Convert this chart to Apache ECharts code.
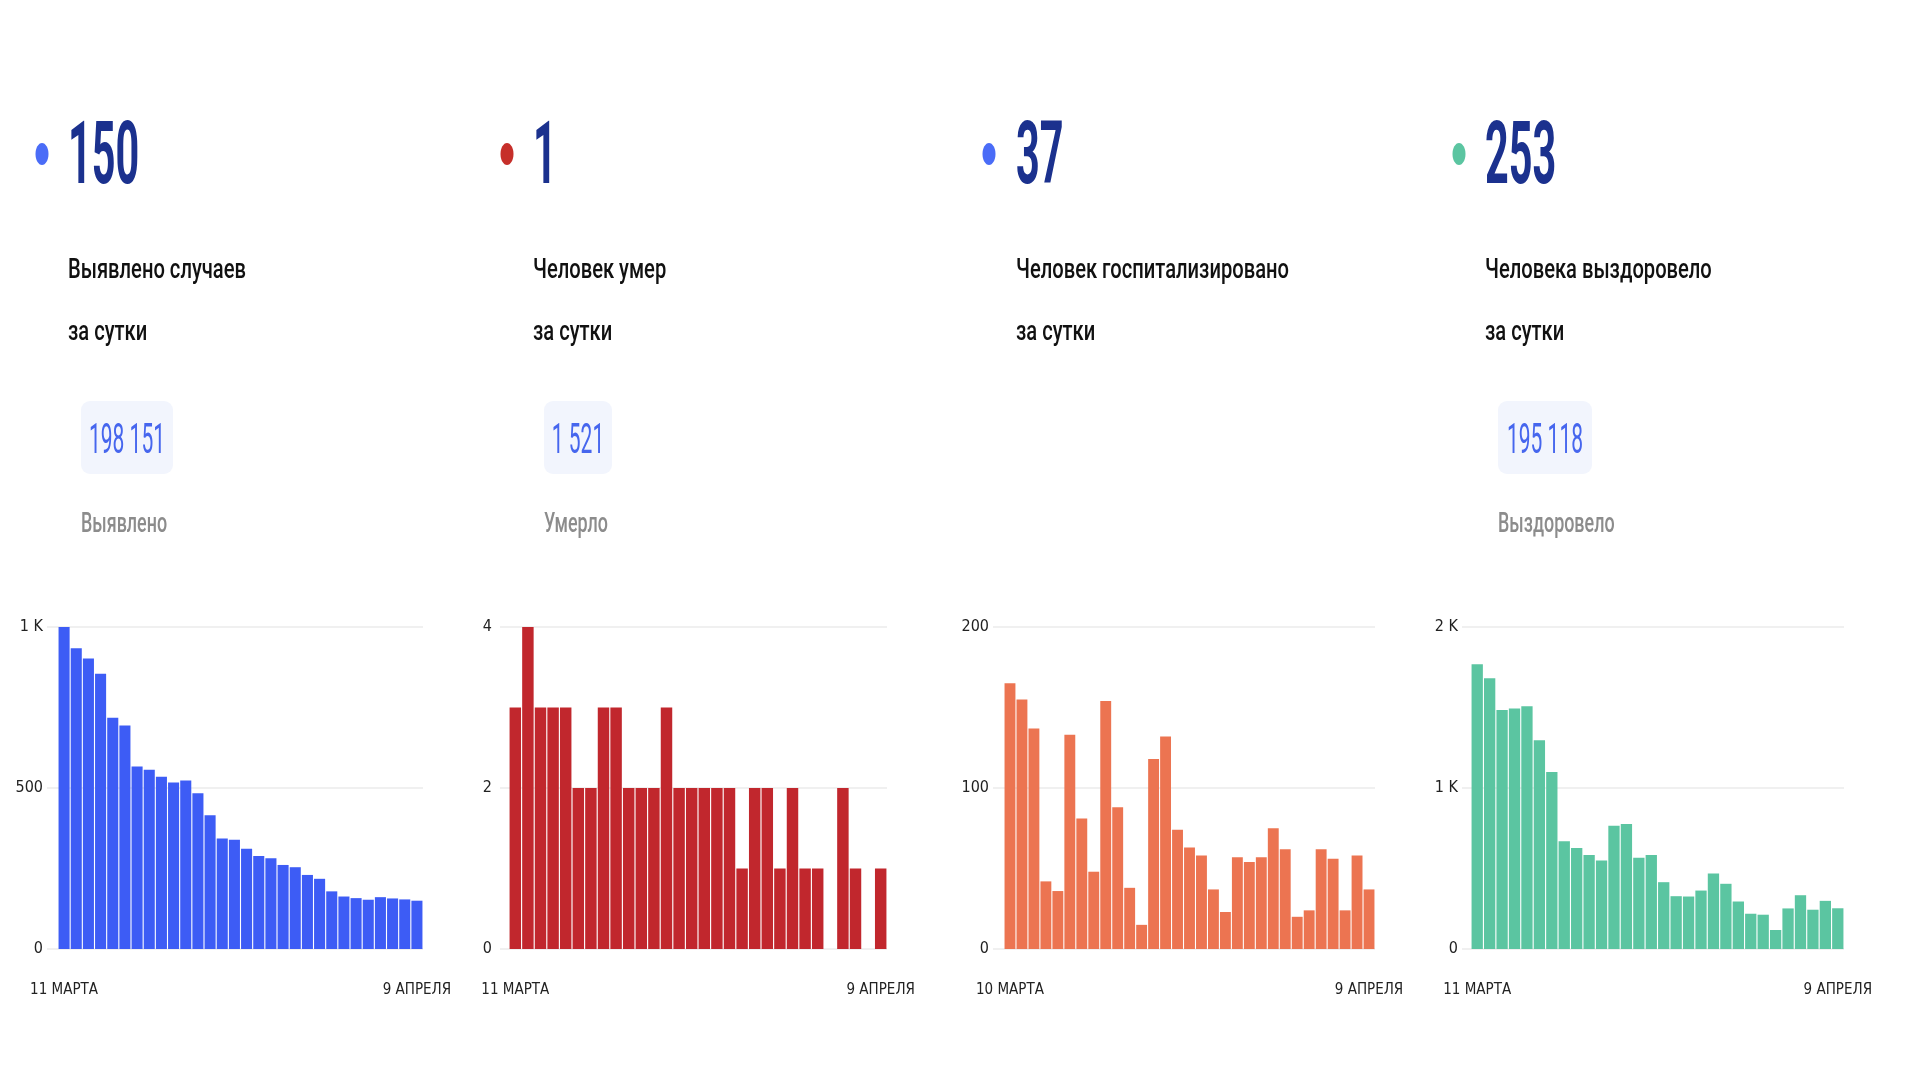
<!DOCTYPE html>
<html>
<head>
<meta charset="utf-8">
<title>COVID</title>
<script src="https://cdn.jsdelivr.net/npm/echarts@6/dist/echarts.min.js"></script>
<style>
    html, body { margin: 0; padding: 0; background: #fff; }
    #main { width: 1920px; height: 1080px; }
</style>
</head>
<body>
<div id="main"></div>
<script>
// даты по оси X (10 марта - 9 апреля)
var days = ['10 МАРТА', '11 МАРТА', '12 МАРТА', '13 МАРТА', '14 МАРТА', '15 МАРТА', '16 МАРТА',
    '17 МАРТА', '18 МАРТА', '19 МАРТА', '20 МАРТА', '21 МАРТА', '22 МАРТА', '23 МАРТА', '24 МАРТА',
    '25 МАРТА', '26 МАРТА', '27 МАРТА', '28 МАРТА', '29 МАРТА', '30 МАРТА', '31 МАРТА',
    '1 АПРЕЛЯ', '2 АПРЕЛЯ', '3 АПРЕЛЯ', '4 АПРЕЛЯ', '5 АПРЕЛЯ', '6 АПРЕЛЯ', '7 АПРЕЛЯ', '8 АПРЕЛЯ', '9 АПРЕЛЯ'];

var casesDaily = [1000, 934, 902, 855, 718, 694, 567, 557, 535, 517, 523, 484, 415, 343, 339,
    311, 289, 282, 261, 254, 230, 218, 179, 163, 158, 153, 161, 157, 154, 150];
var deathsDaily = [3, 4, 3, 3, 3, 2, 2, 3, 3, 2, 2, 2, 3, 2, 2, 2, 2, 2, 1, 2, 2, 1, 2, 1, 1, 0, 2, 1, 0, 1];
var hospDaily = [165, 155, 137, 42, 36, 133, 81, 48, 154, 88, 38, 15, 118, 132, 74, 63, 58, 37, 23,
    57, 54, 57, 75, 62, 20, 24, 62, 56, 24, 58, 37];
var recoveredDaily = [1769, 1682, 1484, 1494, 1507, 1296, 1100, 669, 627, 584, 549, 766, 776, 566, 584,
    415, 328, 326, 363, 469, 405, 295, 219, 213, 118, 252, 334, 244, 299, 253];

var todayValues = ['150', '1', '37', '253'];
var captions = [
    ['Выявлено случаев', 'за сутки'],
    ['Человек умер', 'за сутки'],
    ['Человек госпитализировано', 'за сутки'],
    ['Человека выздоровело', 'за сутки']
];
var totals = ['198 151', '1 521', null, '195 118'];
var totalLabels = ['Выявлено', 'Умерло', null, 'Выздоровело'];

var yMax = [1000, 4, 200, 2000];
var yStep = [500, 2, 100, 1000];

// оформление
var barColors = ['#3d5cf5', '#c1272d', '#ec7451', '#5bc5a1'];
var dotColors = ['#4a6cf7', '#c62f2a', '#4a6cf7', '#5bc5a1'];
var dotX = [42, 507, 989, 1459];
var textX = [68, 533, 1016, 1485];
var boxX = [81, 544, 0, 1498];
var boxW = [92, 68, 0, 94];
var frameLeft = [47, 500, 993, 1462];
var barLeft = [58, 509, 1004, 1471];
var gridRight = [423, 887, 1375, 1844];

var narrow = "'Liberation Sans Narrow', 'DejaVu Sans Condensed', sans-serif";

function kFormat(v) {
    if (v >= 1000) {
        return v / 1000 + ' K';
    }
    return v;
}

function buildHeader(i) {
    var items = [];
    items.push({
        type: 'ellipse',
        shape: { cx: dotX[i], cy: 154, rx: 6.5, ry: 11 },
        style: { fill: dotColors[i] }
    });
    items.push({
        type: 'text', x: textX[i], y: 161, scaleX: 0.47,
        style: {
            text: todayValues[i], fill: '#1b318e', fontFamily: 'Roboto', fontWeight: 'bold',
            fontSize: 88, align: 'left', verticalAlign: 'middle'
        }
    });
    items.push({
        type: 'text', x: textX[i], y: 271, scaleX: 0.72,
        style: {
            text: captions[i][0], fill: '#111', fontFamily: 'Roboto', fontWeight: 500,
            fontSize: 28, align: 'left', verticalAlign: 'middle'
        }
    });
    items.push({
        type: 'text', x: textX[i], y: 333, scaleX: 0.72,
        style: {
            text: captions[i][1], fill: '#111', fontFamily: 'Roboto', fontWeight: 500,
            fontSize: 28, align: 'left', verticalAlign: 'middle'
        }
    });
    if (totals[i]) {
        items.push({
            type: 'rect',
            shape: { x: boxX[i], y: 401, width: boxW[i], height: 73, r: 9 },
            style: { fill: '#f2f5fd' }
        });
        items.push({
            type: 'text', x: boxX[i] + boxW[i] / 2, y: 442, scaleX: 0.5,
            style: {
                text: totals[i], fill: '#4666ee', fontFamily: 'Roboto', fontWeight: 'normal',
                fontSize: 42, align: 'center', verticalAlign: 'middle'
            }
        });
        items.push({
            type: 'text', x: boxX[i], y: 525, scaleX: 0.64,
            style: {
                text: totalLabels[i], fill: '#8c8c8c', fontFamily: 'Roboto', fontWeight: 500,
                fontSize: 28, align: 'left', verticalAlign: 'middle'
            }
        });
    }
    return items;
}

function drawAll() {
    var chart = echarts.init(document.getElementById('main'));
    var seriesData = [casesDaily, deathsDaily, hospDaily, recoveredDaily];
    var grids = [], xAxes = [], yAxes = [], series = [], graphics = [];
    for (var i = 0; i < 4; i++) {
        var cats = seriesData[i].length == 31 ? days : days.slice(1);
        var n = cats.length;
        // сетка с линиями и подписями оси Y
        grids.push({ left: frameLeft[i], width: gridRight[i] - frameLeft[i], top: 627, bottom: 131 });
        // сетка со столбиками
        grids.push({ left: barLeft[i], width: gridRight[i] - barLeft[i], top: 627, bottom: 131 });
        xAxes.push({ type: 'value', gridIndex: 2 * i, show: false, min: 0, max: 1 });
        xAxes.push({
            type: 'category', gridIndex: 2 * i + 1, data: cats,
            axisLine: { show: false }, axisTick: { show: false },
            axisLabel: {
                interval: (function (len) {
                    return function (idx) { return idx === 0 || idx === len - 1; };
                })(n),
                margin: 34, fontSize: 15, color: '#222', fontFamily: narrow
            }
        });
        yAxes.push({
            type: 'value', gridIndex: 2 * i, min: 0, max: yMax[i], interval: yStep[i],
            axisLine: { show: false }, axisTick: { show: false },
            splitLine: { lineStyle: { color: '#ebebeb', width: 1.5 } },
            axisLabel: { formatter: kFormat, margin: i == 1 ? 8 : 4, fontSize: 16, color: '#222', fontFamily: narrow }
        });
        yAxes.push({
            type: 'value', gridIndex: 2 * i + 1, min: 0, max: yMax[i], interval: yStep[i], show: false
        });
        series.push({
            type: 'bar', xAxisIndex: 2 * i + 1, yAxisIndex: 2 * i + 1,
            data: seriesData[i], barCategoryGap: '9%',
            itemStyle: { color: barColors[i] }, silent: true
        });
        graphics = graphics.concat(buildHeader(i));
    }
    chart.setOption({
        animation: false,
        backgroundColor: '#fff',
        grid: grids,
        xAxis: xAxes,
        yAxis: yAxes,
        series: series,
        graphic: graphics
    });
}

drawAll();
</script>
</body>
</html>
